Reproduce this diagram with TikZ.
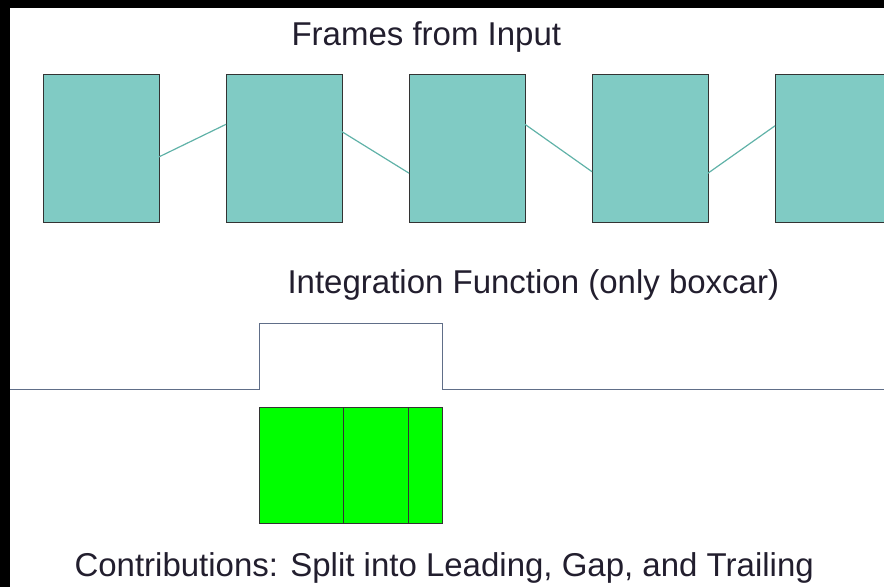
\documentclass[tikz,border=0pt]{standalone}
\usepackage{fontspec}
\setmainfont{Liberation Sans}
\usetikzlibrary{calc,positioning}

\definecolor{framefill}{RGB}{128,203,196}
\definecolor{linkteal}{RGB}{96,178,168}
\definecolor{boxcarline}{RGB}{96,110,136}
\definecolor{labelink}{RGB}{34,30,46}

\begin{document}
\begin{tikzpicture}[
  x=1pt, y=-1pt,
  node distance=67pt,
  every node/.style={font=\fontsize{33}{40}\selectfont, text=labelink},
  framebox/.style={draw=black!80, fill=framefill, line width=0.9pt, minimum width=116pt, minimum height=148pt, inner sep=0pt, outer sep=0pt},
  contrib/.style={draw=black!80, fill=green, line width=0.9pt, minimum height=116pt, inner sep=0pt, outer sep=0pt},
  framelink/.style={linkteal, line width=1.2pt},
  boxcar/.style={boxcarline, line width=0.9pt}
]
\useasboundingbox (0,0) rectangle (884,587);
\clip (0,0) rectangle (884,587);
% dark edges of the page
\fill[black] (0,0) rectangle (10,587);
\fill[black] (0,0) rectangle (884,8);

% frames from the input
\node[anchor=base west] (title) at (288,45) {Frames from Input};
\node[framebox, anchor=north west] (frame1) at (43,74) {};
\node[framebox, right=of frame1] (frame2) {};
\node[framebox, right=of frame2] (frame3) {};
\node[framebox, right=of frame3] (frame4) {};
\node[framebox, right=of frame4] (frame5) {};

\draw[framelink] ($(frame1.south east)!0.44!(frame1.north east)$) -- ($(frame2.south west)!0.66!(frame2.north west)$);
\draw[framelink] ($(frame2.south east)!0.61!(frame2.north east)$) -- ($(frame3.south west)!0.33!(frame3.north west)$);
\draw[framelink] ($(frame3.south east)!0.66!(frame3.north east)$) -- ($(frame4.south west)!0.34!(frame4.north west)$);
\draw[framelink] ($(frame4.south east)!0.33!(frame4.north east)$) -- ($(frame5.south west)!0.65!(frame5.north west)$);

% boxcar window
\node[anchor=base west] (integ) at (284,293) {Integration Function (only boxcar)};
\draw[boxcar] (10,389) -- (259,389) -- (259,323) -- (442,323) -- (442,389) -- (884,389);

% contributions inside the window
\node[contrib, minimum width=84pt, anchor=north west] (lead) at (259,407) {};
\node[contrib, minimum width=65pt, right=0pt of lead] (gap) {};
\node[contrib, minimum width=34pt, right=0pt of gap] (trail) {};
\node[anchor=base west] (split) at (71,576) {Contributions: Split into Leading, Gap, and Trailing};
\end{tikzpicture}
\end{document}
